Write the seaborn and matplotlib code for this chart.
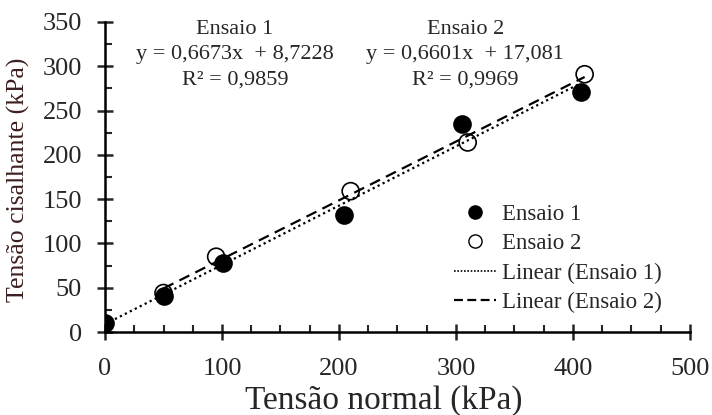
import numpy as np
import pandas as pd
import matplotlib
matplotlib.use('Agg')
import matplotlib.pyplot as plt
from matplotlib.ticker import MultipleLocator
from matplotlib.lines import Line2D
import seaborn as sns

# data
x1 = [0, 50, 101, 204, 305, 407]
y1 = [10, 41, 78, 132, 235, 271]
x2 = [50, 95, 210, 310, 410]
y2 = [44, 85, 159, 214, 291]

eq1 = ['Ensaio 1', 'y = 0,6673x  + 8,7228', 'R\u00b2 = 0,9859']
eq2 = ['Ensaio 2', 'y = 0,6601x  + 17,081', 'R\u00b2 = 0,9969']

sns.set_style('white')
plt.rcParams['font.family'] = ['Liberation Serif', 'DejaVu Serif']

d1 = pd.DataFrame({'x': x1, 'y': y1})
d2 = pd.DataFrame({'x': x2, 'y': y2})

fig = plt.figure(figsize=(7.12, 4.15), dpi=100)
ax = fig.add_axes([0.1475, 0.2, 0.8215, 0.747])

sns.regplot(x='x', y='y', data=d1, ax=ax, scatter=False, ci=None, truncate=True,
            line_kws={'color': 'black', 'linestyle': (0, (1, 1.5)), 'linewidth': 1.6})
sns.regplot(x='x', y='y', data=d2, ax=ax, scatter=False, ci=None, truncate=True,
            line_kws={'color': 'black', 'linestyle': (0, (5, 3)), 'linewidth': 1.6})
sns.scatterplot(x='x', y='y', data=d1, ax=ax, color='black', edgecolor='black',
                s=150, linewidth=1.2, zorder=3, legend=False)
sns.scatterplot(x='x', y='y', data=d2, ax=ax, facecolor='none', edgecolor='black',
                s=150, linewidth=1.2, zorder=4, legend=False)

ax.set_xlim(0, 500)
ax.set_ylim(0, 350)
ax.xaxis.set_major_locator(MultipleLocator(100))
ax.xaxis.set_minor_locator(MultipleLocator(25))
ax.yaxis.set_major_locator(MultipleLocator(50))
ax.yaxis.set_minor_locator(MultipleLocator(25))
ax.tick_params(which='major', direction='inout', length=11, width=1.8, labelsize=19)
ax.tick_params(axis='x', which='major', pad=13)
ax.tick_params(axis='y', which='major', pad=11)
ax.tick_params(which='minor', direction='in', length=5, width=1.5)
ax.tick_params(axis='x', which='both', bottom=True)
ax.tick_params(axis='y', which='both', left=True)
for s in ['top', 'right']:
    ax.spines[s].set_visible(False)
for s in ['left', 'bottom']:
    ax.spines[s].set_linewidth(1.8)
    ax.spines[s].set_color('black')
ax.set_xlabel('Tensão normal (kPa)', fontsize=24)
ax.xaxis.set_label_coords(0.477, -0.172)
ax.set_ylabel('Tensão cisalhante (kPa)', fontsize=18.5, color='#3d1f1f')
ax.yaxis.set_label_coords(-0.128, 0.49)

ax.text(111, 313, '\n'.join(eq1), ha='center', va='center', fontsize=16, linespacing=1.45)
ax.text(308, 313, '\n'.join(eq2), ha='center', va='center', fontsize=16, linespacing=1.45)

handles = [
    Line2D([], [], marker='o', color='black', linestyle='none', markersize=9.5),
    Line2D([], [], marker='o', markerfacecolor='none', markeredgecolor='black',
           linestyle='none', markersize=9.5),
    Line2D([], [], color='black', linestyle=(0, (1, 1)), linewidth=1.2),
    Line2D([], [], color='black', linestyle=(0, (4, 2)), linewidth=1.6),
]
labels = ['Ensaio 1', 'Ensaio 2', 'Linear (Ensaio 1)', 'Linear (Ensaio 2)']
ax.legend(handles, labels, loc='upper left', bbox_to_anchor=(0.561, 0.48), frameon=False,
          fontsize=16.5, handlelength=1.85, handletextpad=0.26, labelspacing=0.36)

fig.savefig('out.png', dpi=100)
